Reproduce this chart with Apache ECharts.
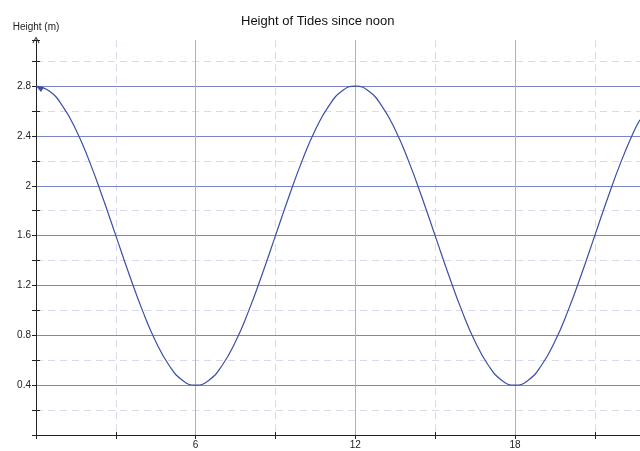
<!DOCTYPE html>
<html>
<head>
<meta charset="utf-8">
<script src="https://cdn.jsdelivr.net/npm/echarts@6/dist/echarts.min.js"></script>
<style>
    html, body { margin: 0; padding: 0; background: #fff; }
    #chart { width: 640px; height: 451px; }
</style>
</head>
<body>
<div id="chart"></div>
<script>
    // hours since noon and tide height
    const hours = [
        0, 0.5, 1, 1.5, 2, 2.5, 3, 3.5, 4, 4.5, 5, 5.5,
        6, 6.5, 7, 7.5, 8, 8.5, 9, 9.5, 10, 10.5, 11, 11.5,
        12, 12.5, 13, 13.5, 14, 14.5, 15, 15.5, 16, 16.5, 17, 17.5,
        18, 18.5, 19, 19.5, 20, 20.5, 21, 21.5, 22, 22.5, 22.7
    ]
    const heights = [
        2.8, 2.76, 2.64, 2.45, 2.2, 1.91, 1.6, 1.29, 1.0, 0.75, 0.56, 0.44,
        0.4, 0.44, 0.56, 0.75, 1.0, 1.29, 1.6, 1.91, 2.2, 2.45, 2.64, 2.76,
        2.8, 2.76, 2.64, 2.45, 2.2, 1.91, 1.6, 1.29, 1.0, 0.75, 0.56, 0.44,
        0.4, 0.44, 0.56, 0.75, 1.0, 1.29, 1.6, 1.91, 2.2, 2.45, 2.53
    ]

    const xLabels = [6, 12, 18]
    const yLabels = [0.4, 0.8, 1.2, 1.6, 2.0, 2.4, 2.8]

    const font = 'Liberation Sans'
    const axisBlack = '#222'
    const solidH = '#7a86c6'
    const solidV = '#a6aee0'
    const dashed = '#d8d8ef'
    const xMax = 22.7
    const yMax = 3.17

    const chart = echarts.init(document.getElementById('chart'))

    const points = hours.map((h, i) => {
        if (i === 0) {
            return {
                value: [h, heights[i]],
                symbol: 'path://M0,0 L8,1 L5,6 Z',
                symbolSize: [8, 6],
                symbolOffset: [4, 3]
            }
        }
        return [h, heights[i]]
    })

    const showIn = list => v => list.some(l => Math.abs(l - v) < 1e-6) ? String(Math.round(v * 10) / 10) : ''

    // one axis for labels and solid lines, one for dashed lines and inner ticks, one for outer ticks
    const xBase = {type: 'value', min: 0, max: xMax, position: 'bottom'}
    const yBase = {type: 'value', min: 0, max: yMax, position: 'left'}

    const option = {
        animation: false,
        textStyle: {fontFamily: font},
        title: {
            text: 'Height of Tides since noon',
            left: 236,
            top: 10,
            textStyle: {fontFamily: font, fontSize: 13, fontWeight: 'normal', color: '#111'}
        },
        grid: {left: 36, right: 0, top: 40, bottom: 16, containLabel: false, outerBoundsMode: 'none'},
        xAxis: [
            Object.assign({}, xBase, {
                interval: 6,
                z: 1,
                axisLine: {onZero: false, lineStyle: {color: axisBlack, width: 1}},
                axisTick: {show: false},
                axisLabel: {fontSize: 10, color: '#222', margin: 5, fontFamily: font, formatter: showIn(xLabels)},
                splitLine: {show: true, showMinLine: false, showMaxLine: false, lineStyle: {color: solidV, width: 1}}
            }),
            Object.assign({}, xBase, {
                interval: 3,
                z: 0,
                axisLine: {show: false, onZero: false},
                axisTick: {inside: true, length: 3, lineStyle: {color: axisBlack}},
                axisLabel: {show: false},
                splitLine: {show: true, showMinLine: false, showMaxLine: false, lineStyle: {color: dashed, width: 1, type: [7, 5]}}
            }),
            Object.assign({}, xBase, {
                interval: 3,
                z: 1,
                axisLine: {show: false, onZero: false},
                axisTick: {inside: false, length: 4, lineStyle: {color: axisBlack}},
                axisLabel: {show: false},
                splitLine: {show: false}
            })
        ],
        yAxis: [
            Object.assign({}, yBase, {
                interval: 0.4,
                z: 1,
                name: 'Height (m)',
                nameLocation: 'end',
                nameGap: 8,
                nameTextStyle: {fontSize: 10, color: '#222', fontFamily: font, align: 'center'},
                axisLine: {
                    onZero: false,
                    symbol: ['none', 'path://M5,0 L10,9 L9,10 L5,2.5 L1,10 L0,9 Z'],
                    symbolSize: [7, 8],
                    lineStyle: {color: axisBlack, width: 1}
                },
                axisTick: {show: false},
                axisLabel: {fontSize: 10, color: '#222', margin: 5, fontFamily: font, formatter: showIn(yLabels)},
                splitLine: {show: true, showMinLine: false, showMaxLine: false, lineStyle: {color: solidH, width: 1}}
            }),
            Object.assign({}, yBase, {
                interval: 0.2,
                z: 0,
                axisLine: {show: false, onZero: false},
                axisTick: {inside: true, length: 4, lineStyle: {color: axisBlack}},
                axisLabel: {show: false},
                splitLine: {show: true, showMinLine: false, showMaxLine: false, lineStyle: {color: dashed, width: 1, type: [7, 5]}}
            }),
            Object.assign({}, yBase, {
                interval: 0.2,
                z: 1,
                axisLine: {show: false, onZero: false},
                axisTick: {inside: false, length: 4, lineStyle: {color: axisBlack}},
                axisLabel: {show: false},
                splitLine: {show: false}
            })
        ],
        series: [
            {
                type: 'line',
                xAxisIndex: 0,
                yAxisIndex: 0,
                data: points,
                smooth: true,
                symbol: 'none',
                silent: true,
                z: 5,
                lineStyle: {color: '#3b4fa6', width: 1.2},
                itemStyle: {color: '#3b4fa6'}
            }
        ]
    }

    chart.setOption(option)
</script>
</body>
</html>
